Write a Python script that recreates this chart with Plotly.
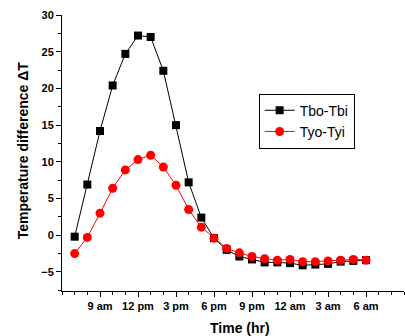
import plotly.graph_objects as go

hours = list(range(7, 31))
tbo_tbi = [-0.2, 6.9, 14.2, 20.4, 24.7, 27.2, 27.0, 22.4, 15.0, 7.2, 2.4, -0.4,
           -2.0, -2.9, -3.3, -3.7, -3.7, -3.8, -4.1, -4.0, -3.9, -3.6, -3.5, -3.4]
tyo_tyi = [-2.5, -0.3, 3.0, 6.4, 8.9, 10.3, 10.9, 9.3, 6.8, 3.5, 1.1, -0.4,
           -1.8, -2.4, -2.9, -3.2, -3.4, -3.3, -3.6, -3.6, -3.5, -3.4, -3.3, -3.4]
tick_hours = [9, 12, 15, 18, 21, 24, 27, 30]
tick_labels = ["9 am", "12 pm", "3 pm", "6 pm", "9 pm", "12 am", "3 am", "6 am"]
y_ticks = [-5, 0, 5, 10, 15, 20, 25, 30]

fig = go.Figure()
fig.add_trace(go.Scatter(x=hours, y=tbo_tbi, name="Tbo-Tbi", mode="lines+markers",
                         line=dict(color="black", width=1),
                         marker=dict(symbol="square", size=8, color="black")))
fig.add_trace(go.Scatter(x=hours, y=tyo_tyi, name="Tyo-Tyi", mode="lines+markers",
                         line=dict(color="red", width=1),
                         marker=dict(symbol="circle", size=9, color="red")))

FONT = "Liberation Sans, Arial"
fig.update_layout(
    width=405, height=336,
    margin=dict(l=62, r=1, t=15, b=45),
    paper_bgcolor="white", plot_bgcolor="white",
    font=dict(family=FONT, color="black"),
    legend=dict(x=0.575, y=0.715, xanchor="left", yanchor="top",
                bordercolor="black", borderwidth=1, bgcolor="white",
                font=dict(family=FONT, size=14, color="black"),
                tracegroupgap=0, itemwidth=30),
    xaxis=dict(range=[6, 33], tickvals=tick_hours, ticktext=tick_labels, automargin=False,
               showgrid=False, zeroline=False, showline=True, linecolor="black", linewidth=1,
               ticks="outside", ticklen=5, tickcolor="black",
               minor=dict(dtick=1, tick0=6, ticks="outside", ticklen=3, tickcolor="black"),
               tickfont=dict(family=FONT, size=11, color="black", weight="bold")),
    yaxis=dict(range=[-7.6, 30], tickvals=y_ticks, automargin=False,
               showgrid=False, zeroline=False, showline=True, linecolor="black", linewidth=1,
               ticks="outside", ticklen=5, tickcolor="black",
               minor=dict(dtick=2.5, tick0=0, ticks="outside", ticklen=3, tickcolor="black"),
               tickfont=dict(family=FONT, size=11, color="black", weight="bold")),
    annotations=[
        dict(text="<b>Time (hr)</b>", xref="paper", yref="paper", x=0.52, y=-0.135,
             xanchor="center", yanchor="middle", showarrow=False,
             font=dict(family=FONT, size=14, color="black")),
        dict(text="<b>Temperature difference ΔT</b>", xref="paper", yref="paper",
             x=-0.114, y=0.51, xanchor="center", yanchor="middle", showarrow=False,
             textangle=-90, font=dict(family=FONT, size=14, color="black")),
    ],
)
fig.write_html("out.html", config={"displayModeBar": False},
               post_script="document.body.style.margin='0';")
